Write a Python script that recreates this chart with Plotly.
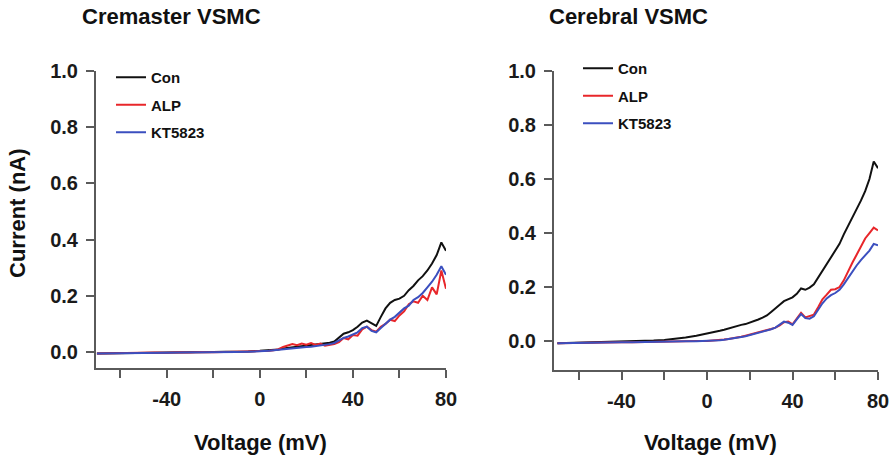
"""Whole-cell I-V curves for cremaster and cerebral VSMC (Con / ALP / KT5823)."""

import plotly.graph_objects as go
from plotly.subplots import make_subplots

W, H = 894, 456

# voltage grid (mV): coarse below 0, finer above
VOLTAGE = [
    -70, -65, -60, -55, -50, -45, -40, -35, -30, -25, -20, -15, -10, -5, 0,
    2, 4, 6, 8, 10, 12, 14, 16, 18, 20, 22, 24, 26, 28, 30, 32, 34, 36, 38, 40,
    42, 44, 46, 48, 50, 52, 54, 56, 58, 60, 62, 64, 66, 68, 70, 72, 74, 76, 78, 80,
]

# Cremaster VSMC currents (nA)
CREM_CON = [
    -0.005, -0.005, -0.004, -0.004, -0.003, -0.003, -0.002, -0.002, -0.001, -0.001, 0.0, 0.001, 0.001, 0.002, 0.004,
    0.005, 0.006, 0.007, 0.009, 0.012, 0.014, 0.017, 0.018, 0.020, 0.021, 0.023, 0.025, 0.028, 0.030, 0.033,
    0.037, 0.050, 0.065, 0.070, 0.078, 0.090, 0.105, 0.112, 0.102, 0.093, 0.125, 0.155, 0.175, 0.185, 0.190,
    0.200, 0.220, 0.235, 0.255, 0.270, 0.290, 0.315, 0.345, 0.390, 0.360,
]
CREM_ALP = [
    -0.005, -0.004, -0.004, -0.004, -0.003, -0.002, -0.003, -0.001, -0.002, 0.0, -0.001, 0.0, 0.001, 0.0, 0.002,
    0.002, 0.004, 0.006, 0.010, 0.018, 0.022, 0.028, 0.024, 0.030, 0.026, 0.032, 0.025, 0.030, 0.022, 0.025,
    0.028, 0.035, 0.050, 0.045, 0.060, 0.058, 0.080, 0.090, 0.078, 0.072, 0.090, 0.100, 0.115, 0.110, 0.130,
    0.145, 0.170, 0.180, 0.175, 0.200, 0.185, 0.230, 0.205, 0.290, 0.225,
]
CREM_KT = [
    -0.005, -0.005, -0.004, -0.004, -0.003, -0.003, -0.003, -0.002, -0.002, -0.001, -0.001, 0.0, 0.0, 0.001, 0.002,
    0.003, 0.004, 0.006, 0.008, 0.010, 0.012, 0.013, 0.015, 0.016, 0.018, 0.019, 0.021, 0.022, 0.024, 0.028,
    0.032, 0.040, 0.050, 0.055, 0.062, 0.070, 0.085, 0.090, 0.075, 0.070, 0.085, 0.100, 0.115, 0.125, 0.140,
    0.155, 0.165, 0.185, 0.195, 0.210, 0.230, 0.250, 0.275, 0.305, 0.275,
]

# Cerebral VSMC currents (nA)
CERE_CON = [
    -0.008, -0.007, -0.006, -0.005, -0.004, -0.003, -0.003, -0.001, 0.0, 0.002, 0.004, 0.008, 0.013, 0.020, 0.027,
    0.030, 0.034, 0.038, 0.042, 0.047, 0.050, 0.055, 0.060, 0.063, 0.068, 0.074, 0.080, 0.087, 0.095, 0.108,
    0.120, 0.135, 0.148, 0.155, 0.162, 0.175, 0.195, 0.190, 0.198, 0.210, 0.235, 0.265, 0.290, 0.315, 0.340,
    0.360, 0.395, 0.425, 0.455, 0.485, 0.520, 0.555, 0.600, 0.665, 0.640,
]
CERE_ALP = [
    -0.008, -0.007, -0.006, -0.006, -0.005, -0.005, -0.004, -0.004, -0.003, -0.003, -0.002, -0.002, -0.001, 0.0, 0.0,
    0.001, 0.002, 0.004, 0.006, 0.008, 0.010, 0.013, 0.016, 0.020, 0.024, 0.027, 0.032, 0.036, 0.040, 0.045,
    0.050, 0.058, 0.070, 0.072, 0.062, 0.085, 0.105, 0.088, 0.092, 0.098, 0.125, 0.155, 0.172, 0.190, 0.192,
    0.200, 0.225, 0.260, 0.290, 0.320, 0.350, 0.380, 0.400, 0.420, 0.410,
]
CERE_KT = [
    -0.008, -0.007, -0.007, -0.006, -0.005, -0.005, -0.004, -0.004, -0.003, -0.003, -0.002, -0.002, -0.001, -0.001, 0.0,
    0.0, 0.002, 0.003, 0.005, 0.007, 0.009, 0.012, 0.015, 0.018, 0.022, 0.026, 0.030, 0.035, 0.040, 0.044,
    0.050, 0.060, 0.072, 0.068, 0.060, 0.080, 0.100, 0.085, 0.083, 0.092, 0.115, 0.140, 0.158, 0.170, 0.178,
    0.190, 0.210, 0.235, 0.260, 0.280, 0.300, 0.318, 0.335, 0.360, 0.355,
]

SERIES_NAMES = ["Con", "ALP", "KT5823"]
SERIES_COLORS = ["#111111", "#e8262a", "#3b4fbf"]

X_TICKS = [-60, -40, -20, 0, 20, 40, 60, 80]
X_TICK_TEXT = ["", "-40", "", "0", "", "40", "", "80"]
Y_TICKS = [0.0, 0.2, 0.4, 0.6, 0.8, 1.0]
Y_TICK_TEXT = ["0.0", "0.2", "0.4", "0.6", "0.8", "1.0"]

FONT = "Liberation Sans, Arial, sans-serif"
AXIS_GREY = "#5a5a5a"


def px_x(p):
    return p / W


def px_y(p):
    return 1 - p / H


fig = make_subplots(rows=1, cols=2)

panels = [
    (1, "legend", [CREM_CON, CREM_ALP, CREM_KT]),
    (2, "legend2", [CERE_CON, CERE_ALP, CERE_KT]),
]
for col, legend_id, series in panels:
    for name, color, values in zip(SERIES_NAMES, SERIES_COLORS, series):
        fig.add_trace(
            go.Scatter(
                x=VOLTAGE,
                y=values,
                mode="lines",
                name=name,
                line=dict(color=color, width=2),
                legend=legend_id,
                legendgroup=f"{legend_id}-{name}",
            ),
            row=1,
            col=col,
        )

axis_common = dict(
    showline=True,
    linecolor=AXIS_GREY,
    linewidth=2,
    ticks="outside",
    ticklen=8,
    tickwidth=2,
    tickcolor=AXIS_GREY,
    showgrid=False,
    zeroline=False,
    automargin=False,
    tickfont=dict(family=FONT, size=20, color="#1a1a1a", weight="bold"),
)

fig.update_xaxes(
    **axis_common,
    tickmode="array",
    tickvals=X_TICKS,
    ticktext=X_TICK_TEXT,
    ticklabelstandoff=4,
)
fig.update_yaxes(
    **axis_common,
    tickmode="array",
    tickvals=Y_TICKS,
    ticktext=Y_TICK_TEXT,
    ticklabelstandoff=4,
)

fig.update_layout(
    xaxis=dict(domain=[px_x(96), px_x(446)], range=[-70.4, 80]),
    yaxis=dict(domain=[px_y(368), px_y(71)], range=[-0.057, 1.0]),
    xaxis2=dict(domain=[px_x(554), px_x(878)], range=[-71.6, 80]),
    yaxis2=dict(domain=[px_y(370), px_y(71)], range=[-0.107, 1.0]),
)

legend_common = dict(
    font=dict(family=FONT, size=15, color="#111111", weight="bold"),
    bgcolor="rgba(0,0,0,0)",
    tracegroupgap=5,
    itemwidth=30,
    xanchor="left",
    yanchor="top",
)
fig.update_layout(
    legend=dict(**legend_common, x=px_x(111), y=px_y(61)),
    legend2=dict(**legend_common, x=px_x(578), y=px_y(52)),
)

annotations = [
    ("Cremaster VSMC", px_x(80), px_y(16), 22, "left", 0),
    ("Cerebral VSMC", px_x(547), px_y(16), 22, "left", 0),
    ("Voltage (mV)", px_x(260), px_y(442), 22, "center", 0),
    ("Voltage (mV)", px_x(710), px_y(442), 22, "center", 0),
    ("Current (nA)", px_x(18), px_y(213), 22, "center", -90),
]
for text, ax, ay, size, anchor, angle in annotations:
    fig.add_annotation(
        text=text,
        x=ax,
        y=ay,
        xref="paper",
        yref="paper",
        xanchor=anchor,
        yanchor="middle",
        textangle=angle,
        showarrow=False,
        font=dict(family=FONT, size=size, color="#111111", weight="bold"),
    )

fig.update_layout(
    width=W,
    height=H,
    margin=dict(l=0, r=0, t=0, b=0, autoexpand=False),
    paper_bgcolor="white",
    plot_bgcolor="white",
    showlegend=True,
)

# the page's default 8px body margin would push the figure off the window
fig.write_html(
    "out.html",
    config={"displayModeBar": False},
    post_script="document.body.style.margin='0';document.body.style.overflow='hidden';",
)
